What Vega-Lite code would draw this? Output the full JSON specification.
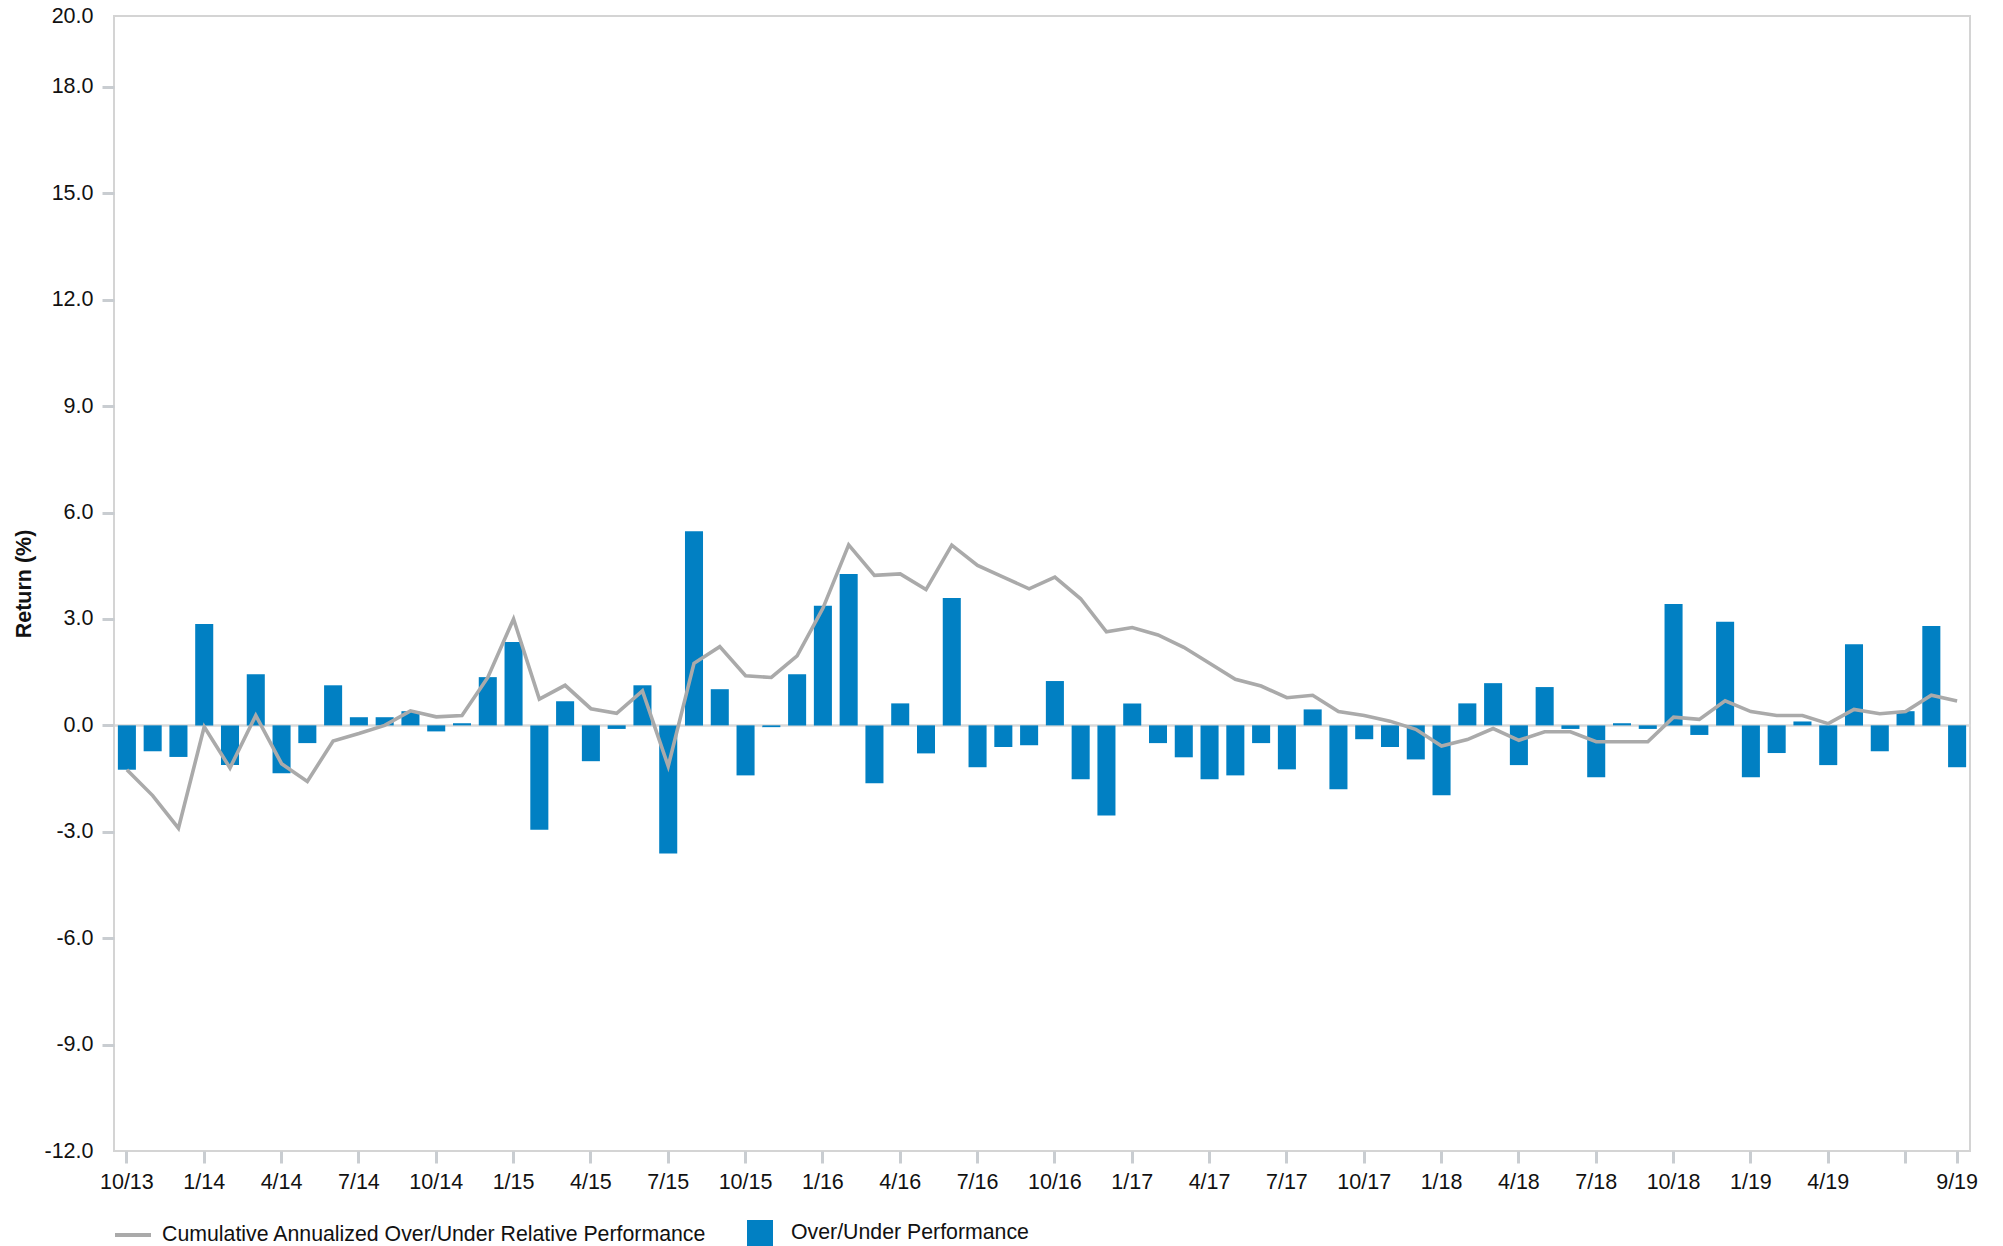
{
  "$schema": "https://vega.github.io/schema/vega-lite/v6.json",
  "width": 1856,
  "height": 1135,
  "autosize": {"type": "none"},
  "padding": {"left": 114, "top": 16, "right": 33, "bottom": 95},
  "background": "white",
  "config": {
    "font": "Liberation Sans",
    "view": {"stroke": "#d4d4d4", "strokeWidth": 2},
    "axis": {"labelFont": "Liberation Sans", "titleFont": "Liberation Sans", "labelColor": "#111111", "titleColor": "#111111"},
    "legend": {"labelFont": "Liberation Sans", "labelColor": "#111111"}
  },
  "data": {
    "values": [
      {"m": "10/13", "bar": -1.25, "cum": -1.25},
      {"m": "11/13", "bar": -0.73, "cum": -1.98},
      {"m": "12/13", "bar": -0.89, "cum": -2.90},
      {"m": "1/14", "bar": 2.86, "cum": -0.04},
      {"m": "2/14", "bar": -1.12, "cum": -1.20},
      {"m": "3/14", "bar": 1.44, "cum": 0.28},
      {"m": "4/14", "bar": -1.35, "cum": -1.08},
      {"m": "5/14", "bar": -0.50, "cum": -1.58},
      {"m": "6/14", "bar": 1.13, "cum": -0.44},
      {"m": "7/14", "bar": 0.23, "cum": -0.23},
      {"m": "8/14", "bar": 0.23, "cum": 0.0},
      {"m": "9/14", "bar": 0.40, "cum": 0.41},
      {"m": "10/14", "bar": -0.17, "cum": 0.24},
      {"m": "11/14", "bar": 0.06, "cum": 0.28},
      {"m": "12/14", "bar": 1.36, "cum": 1.35},
      {"m": "1/15", "bar": 2.35, "cum": 3.0},
      {"m": "2/15", "bar": -2.94, "cum": 0.74},
      {"m": "3/15", "bar": 0.68, "cum": 1.13},
      {"m": "4/15", "bar": -1.01, "cum": 0.47},
      {"m": "5/15", "bar": -0.10, "cum": 0.34},
      {"m": "6/15", "bar": 1.13, "cum": 0.97},
      {"m": "7/15", "bar": -3.61, "cum": -1.15},
      {"m": "8/15", "bar": 5.47, "cum": 1.75},
      {"m": "9/15", "bar": 1.02, "cum": 2.22},
      {"m": "10/15", "bar": -1.41, "cum": 1.40},
      {"m": "11/15", "bar": -0.05, "cum": 1.35},
      {"m": "12/15", "bar": 1.44, "cum": 1.96},
      {"m": "1/16", "bar": 3.37, "cum": 3.3},
      {"m": "2/16", "bar": 4.27, "cum": 5.09},
      {"m": "3/16", "bar": -1.63, "cum": 4.23},
      {"m": "4/16", "bar": 0.62, "cum": 4.27},
      {"m": "5/16", "bar": -0.79, "cum": 3.83},
      {"m": "6/16", "bar": 3.59, "cum": 5.08},
      {"m": "7/16", "bar": -1.18, "cum": 4.51},
      {"m": "8/16", "bar": -0.61, "cum": 4.18},
      {"m": "9/16", "bar": -0.56, "cum": 3.85},
      {"m": "10/16", "bar": 1.25, "cum": 4.18},
      {"m": "11/16", "bar": -1.52, "cum": 3.57},
      {"m": "12/16", "bar": -2.54, "cum": 2.64},
      {"m": "1/17", "bar": 0.62, "cum": 2.76},
      {"m": "2/17", "bar": -0.50, "cum": 2.55},
      {"m": "3/17", "bar": -0.90, "cum": 2.20},
      {"m": "4/17", "bar": -1.52, "cum": 1.75},
      {"m": "5/17", "bar": -1.41, "cum": 1.30},
      {"m": "6/17", "bar": -0.50, "cum": 1.11},
      {"m": "7/17", "bar": -1.24, "cum": 0.78},
      {"m": "8/17", "bar": 0.45, "cum": 0.85},
      {"m": "9/17", "bar": -1.80, "cum": 0.39},
      {"m": "10/17", "bar": -0.39, "cum": 0.28},
      {"m": "11/17", "bar": -0.61, "cum": 0.12},
      {"m": "12/17", "bar": -0.96, "cum": -0.11},
      {"m": "1/18", "bar": -1.97, "cum": -0.58},
      {"m": "2/18", "bar": 0.62, "cum": -0.40},
      {"m": "3/18", "bar": 1.19, "cum": -0.09},
      {"m": "4/18", "bar": -1.12, "cum": -0.42},
      {"m": "5/18", "bar": 1.08, "cum": -0.18},
      {"m": "6/18", "bar": -0.10, "cum": -0.18},
      {"m": "7/18", "bar": -1.46, "cum": -0.46},
      {"m": "8/18", "bar": 0.06, "cum": -0.46},
      {"m": "9/18", "bar": -0.10, "cum": -0.46},
      {"m": "10/18", "bar": 3.42, "cum": 0.23},
      {"m": "11/18", "bar": -0.27, "cum": 0.17},
      {"m": "12/18", "bar": 2.92, "cum": 0.69},
      {"m": "1/19", "bar": -1.46, "cum": 0.39},
      {"m": "2/19", "bar": -0.78, "cum": 0.28},
      {"m": "3/19", "bar": 0.11, "cum": 0.28},
      {"m": "4/19", "bar": -1.12, "cum": 0.05},
      {"m": "5/19", "bar": 2.29, "cum": 0.45},
      {"m": "6/19", "bar": -0.73, "cum": 0.33},
      {"m": "7/19", "bar": 0.40, "cum": 0.39},
      {"m": "8/19", "bar": 2.80, "cum": 0.85},
      {"m": "9/19", "bar": -1.18, "cum": 0.69}
    ]
  },
  "encoding": {
    "x": {
      "field": "m",
      "type": "ordinal",
      "sort": null,
      "scale": {"paddingInner": 0.3, "paddingOuter": 0.15},
      "axis": {
        "values": ["10/13", "1/14", "4/14", "7/14", "10/14", "1/15", "4/15", "7/15", "10/15", "1/16", "4/16", "7/16", "10/16", "1/17", "4/17", "7/17", "10/17", "1/18", "4/18", "7/18", "10/18", "1/19", "4/19", "7/19", "9/19"],
        "labelExpr": "datum.value == '7/19' ? '' : datum.value",
        "labelAngle": 0,
        "title": null,
        "domain": false,
        "grid": false,
        "tickSize": 12,
        "tickWidth": 3,
        "tickColor": "#c9cdd1",
        "labelPadding": 8,
        "labelFontSize": 21.5
      }
    }
  },
  "layer": [
    {
      "mark": {"type": "bar"},
      "encoding": {
        "y": {
          "field": "bar",
          "type": "quantitative",
          "scale": {"domain": [-12, 20], "nice": false, "zero": false},
          "axis": {
            "values": [-12, -9, -6, -3, 0, 3, 6, 9, 12, 15, 18, 20],
            "format": ".1f",
            "labelExpr": "replace(datum.label, '\u2212', '-')",
            "title": "Return (%)",
            "titleFontSize": 21.5,
            "titleFontWeight": "bold",
            "titlePadding": 8,
            "labelFontSize": 21.5,
            "labelPadding": 9,
            "tickSize": 12,
            "tickWidth": 3,
            "tickColor": {"condition": {"test": "datum.value == 20 || datum.value == -12", "value": "transparent"}, "value": "#c9cdd1"},
            "domain": false,
            "grid": true,
            "gridColor": {"condition": {"test": "datum.value == 0", "value": "#d9d9d9"}, "value": "transparent"},
            "gridWidth": 2.5
          }
        },
        "fill": {
          "datum": "Over/Under Performance",
          "type": "nominal",
          "scale": {"range": ["#0180c3"]},
          "legend": {
            "orient": "none",
            "legendX": 633,
            "legendY": 1204,
            "title": null,
            "symbolType": "square",
            "symbolSize": 676,
            "symbolStrokeWidth": 0,
            "labelFontSize": 21.3,
            "labelOffset": 18,
            "labelLimit": 0
          }
        }
      }
    },
    {
      "mark": {"type": "line", "strokeWidth": 3.6},
      "encoding": {
        "y": {"field": "cum", "type": "quantitative"},
        "stroke": {
          "datum": "Cumulative Annualized Over/Under Relative Performance",
          "type": "nominal",
          "scale": {"range": ["#aaaaaa"]},
          "legend": {
            "orient": "none",
            "legendX": -1,
            "legendY": 1199,
            "title": null,
            "symbolType": "stroke",
            "symbolSize": 1296,
            "symbolStrokeWidth": 4,
            "labelFontSize": 21.3,
            "labelOffset": 9,
            "labelLimit": 0
          }
        }
      }
    }
  ]
}
